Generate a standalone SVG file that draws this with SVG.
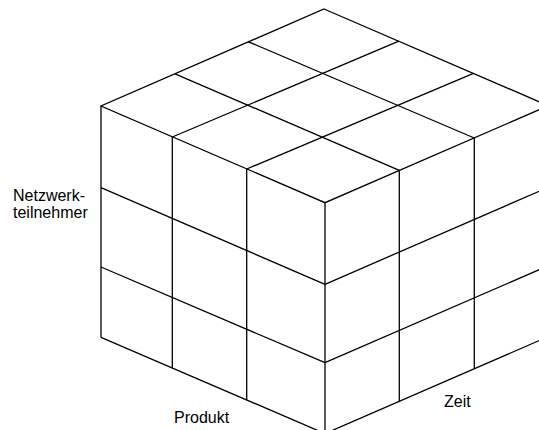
<svg xmlns="http://www.w3.org/2000/svg" width="539" height="430" viewBox="0 0 539 430">
<style>
.ln{fill:none;stroke:#000;stroke-width:1.3;stroke-linejoin:miter}
.lb{font-family:"Liberation Sans",Arial,sans-serif;font-size:16px;fill:#000}
</style>
<rect width="539" height="430" fill="#fff"/>
<g id="top-face" class="ln">
<polygon points="324,9 548.3,105.7 325,202.7 101,106"/>
<line x1="398.8" y1="41.2" x2="172.3" y2="137"/>
<line x1="473.5" y1="73.4" x2="246.7" y2="169"/>
<line x1="248.5" y1="41.8" x2="474.3" y2="138"/>
<line x1="175" y1="73.8" x2="399.3" y2="170.4"/>
</g>
<g id="left-face" class="ln">
<line x1="101" y1="106" x2="101" y2="337.3"/>
<line x1="172.3" y1="137" x2="172.3" y2="368"/>
<line x1="246.7" y1="169" x2="246.7" y2="400"/>
<line x1="325" y1="202.7" x2="325" y2="433.6"/>
<line x1="101" y1="187.7" x2="325" y2="284.3"/>
<line x1="101" y1="267" x2="325" y2="362.7"/>
<line x1="101" y1="337.3" x2="325" y2="433.6"/>
</g>
<g id="right-face" class="ln">
<line x1="399.3" y1="170.4" x2="399.3" y2="401.3"/>
<line x1="474.3" y1="138" x2="474.3" y2="368.7"/>
<line x1="548.3" y1="105.7" x2="548.3" y2="336.6"/>
<line x1="325" y1="284.3" x2="548.3" y2="187.3"/>
<line x1="325" y1="362.7" x2="548.3" y2="265.7"/>
<line x1="325" y1="433.6" x2="548.3" y2="336.6"/>
</g>
<g id="labels" class="lb">
<text x="13" y="201">Netzwerk-</text>
<text x="13" y="218">teilnehmer</text>
<text x="174" y="422.5">Produkt</text>
<text x="444" y="406.5">Zeit</text>
</g>
</svg>
